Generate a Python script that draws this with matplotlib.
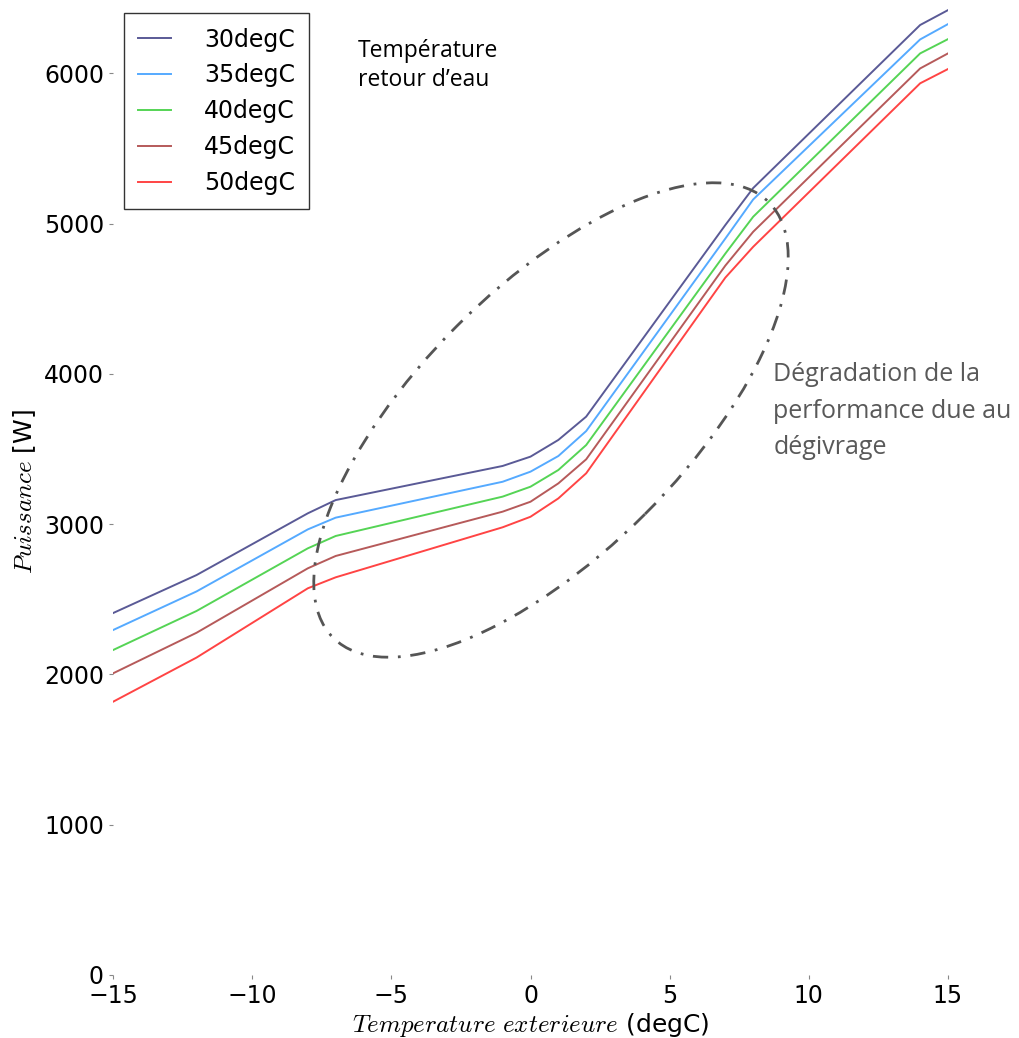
import matplotlib
matplotlib.use('Agg')
import matplotlib.pyplot as plt
from matplotlib.patches import Ellipse

# outdoor temperature nodes (degC)
temp_ext = [-15, -12, -8, -7, -1, 0, 1, 2, 7, 8, 14, 15]

# heating power [W] for each water return temperature
p_30 = [2408, 2661, 3072, 3160, 3387, 3449, 3560, 3715, 4990, 5236, 6321, 6420]
p_35 = [2295, 2552, 2965, 3043, 3282, 3349, 3453, 3619, 4900, 5160, 6225, 6327]
p_40 = [2162, 2422, 2839, 2921, 3183, 3249, 3360, 3526, 4800, 5045, 6132, 6227]
p_45 = [2007, 2277, 2706, 2788, 3083, 3149, 3271, 3431, 4720, 4945, 6032, 6132]
p_50 = [1818, 2112, 2573, 2646, 2979, 3049, 3171, 3338, 4640, 4845, 5933, 6028]

labels = ['30degC', '35degC', '40degC', '45degC', '50degC']
colors = ['#5a5a96', '#55aaff', '#55d455', '#b65a5a', '#ff4444']

plt.rcParams['mathtext.fontset'] = 'cm'

fig = plt.figure(figsize=(10.2, 10.38), dpi=100)
ax = fig.add_axes([0.1108, 0.0607, 0.8186, 0.931])

for p, lab, c in zip([p_30, p_35, p_40, p_45, p_50], labels, colors):
    ax.plot(temp_ext, p, color=c, lw=1.4, label=lab)

ax.set_xlim(-15, 15)
ax.set_ylim(0, 6430)
ax.set_xticks([-15, -10, -5, 0, 5, 10, 15])
ax.set_yticks([0, 1000, 2000, 3000, 4000, 5000, 6000])
for s in ax.spines.values():
    s.set_visible(False)
ax.tick_params(labelsize=17, length=3, width=0.8, color='#888888')

ax.set_xlabel(r'$Temperature\ exterieure$ (degC)', fontsize=18, labelpad=2)
ax.set_ylabel(r'$Puissance$ [W]', fontsize=18, labelpad=4)

leg = ax.legend(loc='upper left', bbox_to_anchor=(0.013, 0.995), borderaxespad=0,
                fontsize=17, fancybox=False, edgecolor='black', handlelength=1.4,
                handletextpad=1.4, borderpad=0.6, labelspacing=0.5)
leg.get_frame().set_linewidth(1.0)

# defrost zone
ell = Ellipse((5.51, 6.18), 6.16, 2.66, angle=45, transform=fig.dpi_scale_trans,
              fill=False, lw=2.0, edgecolor='#555555')
ell.set_linestyle((0, (5.5, 3.5, 1, 3.5)))
fig.add_artist(ell)

fig.text(0.351, 0.937, 'Température\nretour d\u2019eau', fontsize=16.5,
         family='Open Sans', va='center', ha='left', linespacing=1.25)
fig.text(0.758, 0.604, 'Dégradation de la\nperformance due au\ndégivrage', fontsize=18,
         family='Open Sans', color='#595959', va='center', ha='left', linespacing=1.62)

fig.savefig('out.png', dpi=100)
